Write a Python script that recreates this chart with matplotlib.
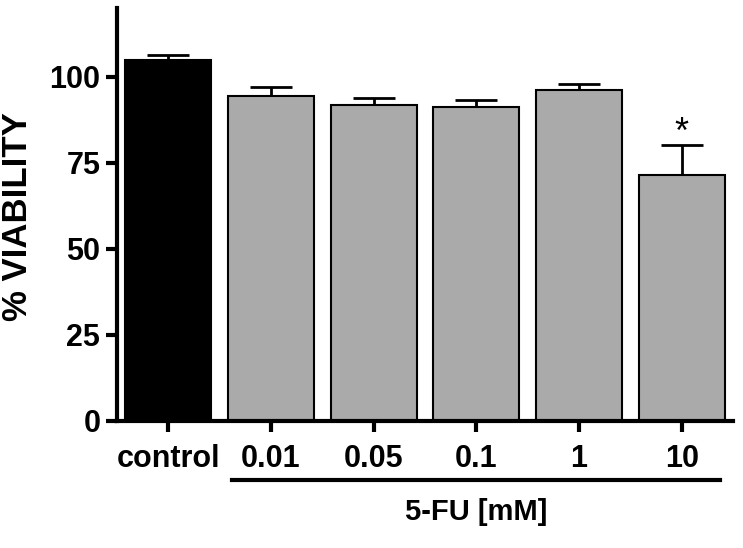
import matplotlib.pyplot as plt
import numpy as np

plt.rcParams['font.family'] = ['Liberation Sans', 'DejaVu Sans']
plt.rcParams['font.weight'] = 'bold'

labels = ['control', '0.01', '0.05', '0.1', '1', '10']
viability = [104.8, 94.5, 91.8, 91.2, 96.2, 71.5]
sem = [1.4, 2.5, 2.0, 2.1, 1.7, 8.7]
colors = ['#000000', '#aaaaaa', '#aaaaaa', '#aaaaaa', '#aaaaaa', '#aaaaaa']
signif = ['', '', '', '', '', '*']

fig = plt.figure(figsize=(7.43, 5.48), dpi=100)
ax = fig.add_axes([117/743, 1 - 420.5/548, (733-117)/743, (420.5-8)/548])

x = np.arange(len(labels))
ax.bar(x, viability, width=0.84, color=colors, edgecolor='black', linewidth=1.5, zorder=2)
ax.errorbar(x, viability, yerr=[np.zeros(len(sem)), sem], fmt='none', ecolor='black',
            elinewidth=2, capsize=15, capthick=2, zorder=1)

for xi, v, s, m in zip(x, viability, sem, signif):
	if m:
		ax.text(xi, v + s + 3.2, m, ha='center', va='center', fontsize=26, fontweight='normal')

ax.set_xlim(-0.5, 5.5)
ax.set_ylim(0, 120)
ax.set_yticks([0, 25, 50, 75, 100])
ax.set_xticks(x)
ax.set_xticklabels(labels)
ax.tick_params(axis='both', width=3, length=8, labelsize=22)
ax.tick_params(axis='y', pad=4)
ax.tick_params(axis='x', pad=9)
for side in ['top', 'right']:
	ax.spines[side].set_visible(False)
for side in ['left', 'bottom']:
	ax.spines[side].set_linewidth(3)

ax.set_ylabel('% VIABILITY', fontsize=25, fontweight='bold')
ax.yaxis.set_label_coords(-0.134, 0.495)

# bracket line under the 5-FU doses
trans = ax.get_xaxis_transform()
ax.plot([0.62, 5.37], [-0.144, -0.144], color='black', lw=3, transform=trans, clip_on=False)
ax.text(3, -0.221, '5-FU [mM]', transform=trans, ha='center', va='center', fontsize=21, fontweight='bold')

fig.savefig('out.png', dpi=100)
